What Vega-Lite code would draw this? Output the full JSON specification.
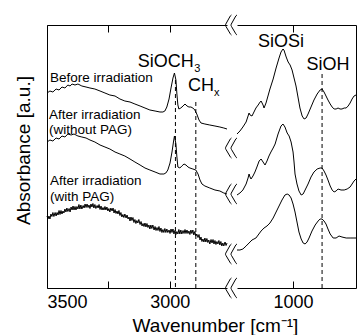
{
  "$schema": "https://vega.github.io/schema/vega-lite/v6.json",
  "padding": {"left": 14, "top": 13, "right": 0, "bottom": 0},
  "config": {
    "view": {"stroke": null},
    "font": "Liberation Sans",
    "axis": {"domainColor": "black", "tickColor": "black", "labelColor": "black", "titleColor": "black", "grid": false, "labelFontSize": 18, "titleFontSize": 19, "titleFontWeight": "normal", "domainWidth": 1, "tickWidth": 1}
  },
  "datasets": {
    "t_left": [
      {"w": 3500, "a": 195, "s": "before"}, {"w": 3488, "a": 197, "s": "before"}, {"w": 3476, "a": 196, "s": "before"}, {"w": 3463, "a": 199, "s": "before"}, {"w": 3451, "a": 198, "s": "before"}, {"w": 3439, "a": 201, "s": "before"}, {"w": 3427, "a": 200, "s": "before"}, {"w": 3415, "a": 203, "s": "before"}, {"w": 3406, "a": 202, "s": "before"}, {"w": 3398, "a": 204, "s": "before"}, {"w": 3386, "a": 203, "s": "before"}, {"w": 3374, "a": 204, "s": "before"}, {"w": 3358, "a": 202, "s": "before"}, {"w": 3341, "a": 201, "s": "before"}, {"w": 3325, "a": 200, "s": "before"}, {"w": 3305, "a": 199, "s": "before"}, {"w": 3284, "a": 197, "s": "before"}, {"w": 3264, "a": 195, "s": "before"}, {"w": 3244, "a": 193, "s": "before"}, {"w": 3223, "a": 192, "s": "before"}, {"w": 3203, "a": 189, "s": "before"}, {"w": 3183, "a": 187, "s": "before"}, {"w": 3162, "a": 186, "s": "before"}, {"w": 3142, "a": 184, "s": "before"}, {"w": 3121, "a": 182, "s": "before"}, {"w": 3101, "a": 180, "s": "before"}, {"w": 3081, "a": 178, "s": "before"}, {"w": 3060, "a": 177, "s": "before"}, {"w": 3040, "a": 176, "s": "before"}, {"w": 3028, "a": 176, "s": "before"}, {"w": 3020, "a": 177, "s": "before"}, {"w": 3012, "a": 181, "s": "before"}, {"w": 3003, "a": 189, "s": "before"}, {"w": 2995, "a": 200, "s": "before"}, {"w": 2987, "a": 210, "s": "before"}, {"w": 2981, "a": 215, "s": "before"}, {"w": 2975, "a": 208, "s": "before"}, {"w": 2971, "a": 194, "s": "before"}, {"w": 2967, "a": 183, "s": "before"}, {"w": 2963, "a": 179, "s": "before"}, {"w": 2955, "a": 180, "s": "before"}, {"w": 2946, "a": 182, "s": "before"}, {"w": 2938, "a": 184, "s": "before"}, {"w": 2930, "a": 182, "s": "before"}, {"w": 2922, "a": 181, "s": "before"}, {"w": 2914, "a": 181, "s": "before"}, {"w": 2906, "a": 180, "s": "before"}, {"w": 2898, "a": 178, "s": "before"}, {"w": 2890, "a": 174, "s": "before"}, {"w": 2881, "a": 168, "s": "before"}, {"w": 2873, "a": 165, "s": "before"}, {"w": 2857, "a": 164, "s": "before"}, {"w": 2837, "a": 163, "s": "before"}, {"w": 2816, "a": 162, "s": "before"}, {"w": 2796, "a": 161, "s": "before"}, {"w": 2780, "a": 160, "s": "before"}, {"w": 2767, "a": 159, "s": "before"},
      {"w": 3500, "a": 146, "s": "without"}, {"w": 3488, "a": 148, "s": "without"}, {"w": 3476, "a": 147, "s": "without"}, {"w": 3463, "a": 150, "s": "without"}, {"w": 3451, "a": 149, "s": "without"}, {"w": 3439, "a": 152, "s": "without"}, {"w": 3427, "a": 151, "s": "without"}, {"w": 3415, "a": 154, "s": "without"}, {"w": 3402, "a": 153, "s": "without"}, {"w": 3390, "a": 154, "s": "without"}, {"w": 3374, "a": 152, "s": "without"}, {"w": 3358, "a": 151, "s": "without"}, {"w": 3341, "a": 150, "s": "without"}, {"w": 3325, "a": 148, "s": "without"}, {"w": 3305, "a": 146, "s": "without"}, {"w": 3284, "a": 143, "s": "without"}, {"w": 3264, "a": 141, "s": "without"}, {"w": 3244, "a": 139, "s": "without"}, {"w": 3223, "a": 136, "s": "without"}, {"w": 3203, "a": 134, "s": "without"}, {"w": 3183, "a": 132, "s": "without"}, {"w": 3162, "a": 129, "s": "without"}, {"w": 3142, "a": 126, "s": "without"}, {"w": 3121, "a": 123, "s": "without"}, {"w": 3101, "a": 120, "s": "without"}, {"w": 3081, "a": 118, "s": "without"}, {"w": 3060, "a": 116, "s": "without"}, {"w": 3040, "a": 114, "s": "without"}, {"w": 3024, "a": 114, "s": "without"}, {"w": 3016, "a": 115, "s": "without"}, {"w": 3008, "a": 118, "s": "without"}, {"w": 2999, "a": 125, "s": "without"}, {"w": 2991, "a": 136, "s": "without"}, {"w": 2985, "a": 146, "s": "without"}, {"w": 2981, "a": 152, "s": "without"}, {"w": 2975, "a": 144, "s": "without"}, {"w": 2971, "a": 131, "s": "without"}, {"w": 2967, "a": 121, "s": "without"}, {"w": 2959, "a": 120, "s": "without"}, {"w": 2951, "a": 122, "s": "without"}, {"w": 2942, "a": 124, "s": "without"}, {"w": 2934, "a": 123, "s": "without"}, {"w": 2926, "a": 121, "s": "without"}, {"w": 2918, "a": 120, "s": "without"}, {"w": 2906, "a": 119, "s": "without"}, {"w": 2894, "a": 118, "s": "without"}, {"w": 2885, "a": 114, "s": "without"}, {"w": 2877, "a": 108, "s": "without"}, {"w": 2869, "a": 104, "s": "without"}, {"w": 2857, "a": 102, "s": "without"}, {"w": 2837, "a": 100, "s": "without"}, {"w": 2816, "a": 98, "s": "without"}, {"w": 2796, "a": 97, "s": "without"}, {"w": 2780, "a": 95, "s": "without"}, {"w": 2767, "a": 94, "s": "without"},
      {"w": 3500, "a": 72, "s": "with"}, {"w": 3496, "a": 69, "s": "with"}, {"w": 3492, "a": 72, "s": "with"}, {"w": 3488, "a": 69, "s": "with"}, {"w": 3484, "a": 74, "s": "with"}, {"w": 3480, "a": 71.5, "s": "with"}, {"w": 3476, "a": 75.5, "s": "with"}, {"w": 3472, "a": 71.5, "s": "with"}, {"w": 3467, "a": 75.5, "s": "with"}, {"w": 3463, "a": 72, "s": "with"}, {"w": 3459, "a": 75.5, "s": "with"}, {"w": 3455, "a": 73, "s": "with"}, {"w": 3451, "a": 77.5, "s": "with"}, {"w": 3447, "a": 73.5, "s": "with"}, {"w": 3443, "a": 77.5, "s": "with"}, {"w": 3439, "a": 74, "s": "with"}, {"w": 3435, "a": 77, "s": "with"}, {"w": 3431, "a": 75, "s": "with"}, {"w": 3427, "a": 79, "s": "with"}, {"w": 3423, "a": 76, "s": "with"}, {"w": 3419, "a": 80, "s": "with"}, {"w": 3415, "a": 76.5, "s": "with"}, {"w": 3410, "a": 79.5, "s": "with"}, {"w": 3406, "a": 76, "s": "with"}, {"w": 3402, "a": 81, "s": "with"}, {"w": 3398, "a": 78, "s": "with"}, {"w": 3394, "a": 82, "s": "with"}, {"w": 3390, "a": 78, "s": "with"}, {"w": 3386, "a": 81.5, "s": "with"}, {"w": 3382, "a": 78, "s": "with"}, {"w": 3378, "a": 81.5, "s": "with"}, {"w": 3374, "a": 79, "s": "with"}, {"w": 3370, "a": 83.5, "s": "with"}, {"w": 3366, "a": 79, "s": "with"}, {"w": 3362, "a": 83, "s": "with"}, {"w": 3358, "a": 79, "s": "with"}, {"w": 3353, "a": 82.5, "s": "with"}, {"w": 3349, "a": 80, "s": "with"}, {"w": 3345, "a": 84, "s": "with"}, {"w": 3341, "a": 80.5, "s": "with"}, {"w": 3337, "a": 84, "s": "with"}, {"w": 3333, "a": 80.5, "s": "with"}, {"w": 3329, "a": 83, "s": "with"}, {"w": 3325, "a": 79.5, "s": "with"}, {"w": 3321, "a": 84, "s": "with"}, {"w": 3317, "a": 81, "s": "with"}, {"w": 3313, "a": 84.5, "s": "with"}, {"w": 3309, "a": 80, "s": "with"}, {"w": 3305, "a": 83.5, "s": "with"}, {"w": 3301, "a": 79.5, "s": "with"}, {"w": 3296, "a": 82.5, "s": "with"}, {"w": 3292, "a": 80, "s": "with"}, {"w": 3288, "a": 83.5, "s": "with"}, {"w": 3284, "a": 78.5, "s": "with"}, {"w": 3280, "a": 82, "s": "with"}, {"w": 3276, "a": 78, "s": "with"}, {"w": 3272, "a": 80.5, "s": "with"}, {"w": 3268, "a": 78, "s": "with"}, {"w": 3264, "a": 81.5, "s": "with"}, {"w": 3260, "a": 78, "s": "with"}, {"w": 3256, "a": 81, "s": "with"}, {"w": 3252, "a": 77, "s": "with"}, {"w": 3248, "a": 79.5, "s": "with"}, {"w": 3244, "a": 76, "s": "with"}, {"w": 3240, "a": 80, "s": "with"}, {"w": 3235, "a": 77, "s": "with"}, {"w": 3231, "a": 80, "s": "with"}, {"w": 3227, "a": 75, "s": "with"}, {"w": 3223, "a": 78.5, "s": "with"}, {"w": 3219, "a": 74.5, "s": "with"}, {"w": 3215, "a": 77, "s": "with"}, {"w": 3211, "a": 74, "s": "with"}, {"w": 3207, "a": 77.5, "s": "with"}, {"w": 3203, "a": 72.5, "s": "with"}, {"w": 3199, "a": 75.5, "s": "with"}, {"w": 3195, "a": 71, "s": "with"}, {"w": 3191, "a": 73.5, "s": "with"}, {"w": 3187, "a": 70.5, "s": "with"}, {"w": 3183, "a": 74, "s": "with"}, {"w": 3178, "a": 70, "s": "with"}, {"w": 3174, "a": 73, "s": "with"}, {"w": 3170, "a": 69, "s": "with"}, {"w": 3166, "a": 71, "s": "with"}, {"w": 3162, "a": 67, "s": "with"}, {"w": 3158, "a": 71, "s": "with"}, {"w": 3154, "a": 67.5, "s": "with"}, {"w": 3150, "a": 70.5, "s": "with"}, {"w": 3146, "a": 65.5, "s": "with"}, {"w": 3142, "a": 68.5, "s": "with"}, {"w": 3138, "a": 64.5, "s": "with"}, {"w": 3134, "a": 67.5, "s": "with"}, {"w": 3130, "a": 65, "s": "with"}, {"w": 3126, "a": 68.5, "s": "with"}, {"w": 3121, "a": 63.5, "s": "with"}, {"w": 3117, "a": 66.5, "s": "with"}, {"w": 3113, "a": 62, "s": "with"}, {"w": 3109, "a": 64.5, "s": "with"}, {"w": 3105, "a": 61.5, "s": "with"}, {"w": 3101, "a": 65, "s": "with"}, {"w": 3097, "a": 61, "s": "with"}, {"w": 3093, "a": 64.5, "s": "with"}, {"w": 3089, "a": 60.5, "s": "with"}, {"w": 3085, "a": 63, "s": "with"}, {"w": 3081, "a": 59, "s": "with"}, {"w": 3077, "a": 63, "s": "with"}, {"w": 3073, "a": 59.5, "s": "with"}, {"w": 3069, "a": 63, "s": "with"}, {"w": 3064, "a": 58, "s": "with"}, {"w": 3060, "a": 61.5, "s": "with"}, {"w": 3056, "a": 57.5, "s": "with"}, {"w": 3052, "a": 60.5, "s": "with"}, {"w": 3048, "a": 57.5, "s": "with"}, {"w": 3044, "a": 61.5, "s": "with"}, {"w": 3040, "a": 56.5, "s": "with"}, {"w": 3036, "a": 60, "s": "with"}, {"w": 3032, "a": 55.5, "s": "with"}, {"w": 3028, "a": 58.5, "s": "with"}, {"w": 3024, "a": 55.5, "s": "with"}, {"w": 3020, "a": 59.5, "s": "with"}, {"w": 3016, "a": 55.5, "s": "with"}, {"w": 3012, "a": 59, "s": "with"}, {"w": 3008, "a": 55.5, "s": "with"}, {"w": 3003, "a": 58, "s": "with"}, {"w": 2999, "a": 54.5, "s": "with"}, {"w": 2995, "a": 59, "s": "with"}, {"w": 2991, "a": 55.5, "s": "with"}, {"w": 2987, "a": 59, "s": "with"}, {"w": 2983, "a": 54, "s": "with"}, {"w": 2979, "a": 57.5, "s": "with"}, {"w": 2975, "a": 53.5, "s": "with"}, {"w": 2971, "a": 56.5, "s": "with"}, {"w": 2967, "a": 54, "s": "with"}, {"w": 2963, "a": 58.5, "s": "with"}, {"w": 2959, "a": 54, "s": "with"}, {"w": 2955, "a": 58, "s": "with"}, {"w": 2951, "a": 54, "s": "with"}, {"w": 2946, "a": 57.5, "s": "with"}, {"w": 2942, "a": 54.5, "s": "with"}, {"w": 2938, "a": 58.5, "s": "with"}, {"w": 2934, "a": 54.5, "s": "with"}, {"w": 2930, "a": 58, "s": "with"}, {"w": 2926, "a": 54.5, "s": "with"}, {"w": 2922, "a": 57, "s": "with"}, {"w": 2918, "a": 53.5, "s": "with"}, {"w": 2914, "a": 58, "s": "with"}, {"w": 2910, "a": 54.5, "s": "with"}, {"w": 2906, "a": 58, "s": "with"}, {"w": 2902, "a": 53, "s": "with"}, {"w": 2898, "a": 56.5, "s": "with"}, {"w": 2894, "a": 52, "s": "with"}, {"w": 2890, "a": 54, "s": "with"}, {"w": 2885, "a": 50.5, "s": "with"}, {"w": 2881, "a": 53.5, "s": "with"}, {"w": 2877, "a": 48, "s": "with"}, {"w": 2873, "a": 51, "s": "with"}, {"w": 2869, "a": 46.5, "s": "with"}, {"w": 2865, "a": 49, "s": "with"}, {"w": 2861, "a": 46, "s": "with"}, {"w": 2857, "a": 50, "s": "with"}, {"w": 2853, "a": 46, "s": "with"}, {"w": 2849, "a": 49.5, "s": "with"}, {"w": 2845, "a": 45.5, "s": "with"}, {"w": 2841, "a": 48, "s": "with"}, {"w": 2837, "a": 44, "s": "with"}, {"w": 2832, "a": 48.5, "s": "with"}, {"w": 2828, "a": 45, "s": "with"}, {"w": 2824, "a": 48.5, "s": "with"}, {"w": 2820, "a": 44, "s": "with"}, {"w": 2816, "a": 47.5, "s": "with"}, {"w": 2812, "a": 43.5, "s": "with"}, {"w": 2808, "a": 46.5, "s": "with"}, {"w": 2804, "a": 44, "s": "with"}, {"w": 2800, "a": 47.5, "s": "with"}, {"w": 2796, "a": 43, "s": "with"}, {"w": 2792, "a": 46.5, "s": "with"}, {"w": 2788, "a": 42, "s": "with"}, {"w": 2784, "a": 45, "s": "with"}, {"w": 2780, "a": 42, "s": "with"}, {"w": 2775, "a": 46, "s": "with"}, {"w": 2771, "a": 42.5, "s": "with"}, {"w": 2767, "a": 45, "s": "with"}
    ],
    "t_right": [
      {"w": 1228, "a": 154, "s": "before"}, {"w": 1216, "a": 157, "s": "before"}, {"w": 1204, "a": 161, "s": "before"}, {"w": 1191, "a": 166, "s": "before"}, {"w": 1183, "a": 172, "s": "before"}, {"w": 1179, "a": 175, "s": "before"}, {"w": 1175, "a": 173, "s": "before"}, {"w": 1167, "a": 172, "s": "before"}, {"w": 1159, "a": 176, "s": "before"}, {"w": 1151, "a": 180, "s": "before"}, {"w": 1142, "a": 183, "s": "before"}, {"w": 1134, "a": 186, "s": "before"}, {"w": 1130, "a": 187, "s": "before"}, {"w": 1122, "a": 183, "s": "before"}, {"w": 1118, "a": 180, "s": "before"}, {"w": 1110, "a": 185, "s": "before"}, {"w": 1102, "a": 192, "s": "before"}, {"w": 1094, "a": 199, "s": "before"}, {"w": 1081, "a": 209, "s": "before"}, {"w": 1069, "a": 220, "s": "before"}, {"w": 1057, "a": 230, "s": "before"}, {"w": 1049, "a": 236, "s": "before"}, {"w": 1041, "a": 239, "s": "before"}, {"w": 1037, "a": 238, "s": "before"}, {"w": 1028, "a": 231, "s": "before"}, {"w": 1020, "a": 226, "s": "before"}, {"w": 1012, "a": 223, "s": "before"}, {"w": 1004, "a": 218, "s": "before"}, {"w": 996, "a": 210, "s": "before"}, {"w": 988, "a": 202, "s": "before"}, {"w": 980, "a": 191, "s": "before"}, {"w": 972, "a": 180, "s": "before"}, {"w": 963, "a": 172, "s": "before"}, {"w": 955, "a": 169, "s": "before"}, {"w": 947, "a": 170, "s": "before"}, {"w": 939, "a": 174, "s": "before"}, {"w": 927, "a": 181, "s": "before"}, {"w": 915, "a": 188, "s": "before"}, {"w": 902, "a": 194, "s": "before"}, {"w": 890, "a": 198, "s": "before"}, {"w": 882, "a": 199, "s": "before"}, {"w": 874, "a": 196, "s": "before"}, {"w": 866, "a": 192, "s": "before"}, {"w": 858, "a": 188, "s": "before"}, {"w": 849, "a": 184, "s": "before"}, {"w": 841, "a": 181, "s": "before"}, {"w": 833, "a": 179, "s": "before"}, {"w": 825, "a": 179, "s": "before"}, {"w": 817, "a": 180, "s": "before"}, {"w": 809, "a": 179, "s": "before"}, {"w": 801, "a": 179, "s": "before"}, {"w": 792, "a": 180, "s": "before"}, {"w": 784, "a": 180, "s": "before"}, {"w": 776, "a": 182, "s": "before"}, {"w": 768, "a": 185, "s": "before"}, {"w": 760, "a": 189, "s": "before"}, {"w": 752, "a": 192, "s": "before"}, {"w": 744, "a": 193, "s": "before"},
      {"w": 1228, "a": 93, "s": "without"}, {"w": 1216, "a": 95, "s": "without"}, {"w": 1204, "a": 98, "s": "without"}, {"w": 1191, "a": 104, "s": "without"}, {"w": 1183, "a": 110, "s": "without"}, {"w": 1179, "a": 114, "s": "without"}, {"w": 1175, "a": 111, "s": "without"}, {"w": 1171, "a": 109, "s": "without"}, {"w": 1163, "a": 112, "s": "without"}, {"w": 1155, "a": 116, "s": "without"}, {"w": 1147, "a": 121, "s": "without"}, {"w": 1138, "a": 127, "s": "without"}, {"w": 1130, "a": 129, "s": "without"}, {"w": 1122, "a": 126, "s": "without"}, {"w": 1114, "a": 123, "s": "without"}, {"w": 1106, "a": 127, "s": "without"}, {"w": 1098, "a": 132, "s": "without"}, {"w": 1090, "a": 136, "s": "without"}, {"w": 1081, "a": 140, "s": "without"}, {"w": 1073, "a": 144, "s": "without"}, {"w": 1061, "a": 154, "s": "without"}, {"w": 1049, "a": 162, "s": "without"}, {"w": 1041, "a": 164, "s": "without"}, {"w": 1033, "a": 161, "s": "without"}, {"w": 1024, "a": 155, "s": "without"}, {"w": 1016, "a": 152, "s": "without"}, {"w": 1008, "a": 146, "s": "without"}, {"w": 1000, "a": 136, "s": "without"}, {"w": 996, "a": 126, "s": "without"}, {"w": 992, "a": 114, "s": "without"}, {"w": 984, "a": 104, "s": "without"}, {"w": 976, "a": 97, "s": "without"}, {"w": 967, "a": 93, "s": "without"}, {"w": 959, "a": 94, "s": "without"}, {"w": 951, "a": 98, "s": "without"}, {"w": 939, "a": 104, "s": "without"}, {"w": 927, "a": 111, "s": "without"}, {"w": 915, "a": 116, "s": "without"}, {"w": 902, "a": 119, "s": "without"}, {"w": 890, "a": 120, "s": "without"}, {"w": 882, "a": 120, "s": "without"}, {"w": 874, "a": 117, "s": "without"}, {"w": 866, "a": 113, "s": "without"}, {"w": 858, "a": 108, "s": "without"}, {"w": 849, "a": 102, "s": "without"}, {"w": 841, "a": 98, "s": "without"}, {"w": 833, "a": 96, "s": "without"}, {"w": 825, "a": 97, "s": "without"}, {"w": 817, "a": 99, "s": "without"}, {"w": 805, "a": 98, "s": "without"}, {"w": 792, "a": 98, "s": "without"}, {"w": 780, "a": 99, "s": "without"}, {"w": 768, "a": 101, "s": "without"}, {"w": 760, "a": 104, "s": "without"}, {"w": 752, "a": 107, "s": "without"}, {"w": 744, "a": 109, "s": "without"},
      {"w": 1228, "a": 38, "s": "with"}, {"w": 1216, "a": 38, "s": "with"}, {"w": 1204, "a": 39, "s": "with"}, {"w": 1191, "a": 42, "s": "with"}, {"w": 1179, "a": 45, "s": "with"}, {"w": 1167, "a": 48, "s": "with"}, {"w": 1159, "a": 49, "s": "with"}, {"w": 1151, "a": 50, "s": "with"}, {"w": 1142, "a": 53, "s": "with"}, {"w": 1130, "a": 57, "s": "with"}, {"w": 1118, "a": 60, "s": "with"}, {"w": 1106, "a": 62, "s": "with"}, {"w": 1094, "a": 65, "s": "with"}, {"w": 1081, "a": 70, "s": "with"}, {"w": 1069, "a": 76, "s": "with"}, {"w": 1057, "a": 82, "s": "with"}, {"w": 1045, "a": 88, "s": "with"}, {"w": 1033, "a": 93, "s": "with"}, {"w": 1024, "a": 94, "s": "with"}, {"w": 1016, "a": 93, "s": "with"}, {"w": 1008, "a": 90, "s": "with"}, {"w": 1000, "a": 84, "s": "with"}, {"w": 992, "a": 76, "s": "with"}, {"w": 984, "a": 66, "s": "with"}, {"w": 976, "a": 56, "s": "with"}, {"w": 967, "a": 49, "s": "with"}, {"w": 959, "a": 45, "s": "with"}, {"w": 951, "a": 44, "s": "with"}, {"w": 943, "a": 46, "s": "with"}, {"w": 935, "a": 50, "s": "with"}, {"w": 923, "a": 57, "s": "with"}, {"w": 910, "a": 63, "s": "with"}, {"w": 898, "a": 67, "s": "with"}, {"w": 890, "a": 69, "s": "with"}, {"w": 882, "a": 69, "s": "with"}, {"w": 874, "a": 67, "s": "with"}, {"w": 866, "a": 64, "s": "with"}, {"w": 858, "a": 59, "s": "with"}, {"w": 849, "a": 54, "s": "with"}, {"w": 837, "a": 50, "s": "with"}, {"w": 825, "a": 50, "s": "with"}, {"w": 813, "a": 52, "s": "with"}, {"w": 801, "a": 51, "s": "with"}, {"w": 784, "a": 50, "s": "with"}, {"w": 768, "a": 50, "s": "with"}, {"w": 756, "a": 50, "s": "with"}, {"w": 744, "a": 50, "s": "with"}
    ],
    "lab_small": [
      {"w": 3488, "a": 206, "t": "Before irradiation"},
      {"w": 3492, "a": 169, "t": "After irradiation"},
      {"w": 3492, "a": 154, "t": "(without PAG)"},
      {"w": 3488, "a": 103, "t": "After irradiation"},
      {"w": 3488, "a": 87, "t": "(with PAG)"}
    ],
    "lab_big_left": [
      {"w": 3130, "a": 221, "t": "SiOCH"},
      {"w": 2926, "a": 197, "t": "CH"}
    ],
    "lab_sub_left": [
      {"w": 2900, "a": 216, "t": "3"},
      {"w": 2820, "a": 192, "t": "x"}
    ],
    "lab_big_right": [
      {"w": 1049, "a": 241, "t": "SiOSi"},
      {"w": 858, "a": 218, "t": "SiOH"}
    ],
    "rules_left": [
      {"w": 2977, "y1": 208, "y2": 0},
      {"w": 2894, "y1": 186, "y2": 0}
    ],
    "rules_right": [
      {"w": 882, "y1": 214, "y2": 0}
    ],
    "breaks": [
      {"w": 2751, "a": 263}, {"w": 2751, "a": 140}, {"w": 2751, "a": 94}, {"w": 2751, "a": 34}, {"w": 2751, "a": 0}
    ]
  },
  "bounds": "flush",
  "spacing": 10,
  "hconcat": [
    {
      "width": 180,
      "height": 263,
      "resolve": {"axis": {"x": "independent"}},
      "layer": [
        {
          "data": {"name": "t_left"},
          "mark": {"type": "line", "color": "black", "strokeWidth": 1},
          "encoding": {
            "x": {"field": "w", "type": "quantitative", "scale": {"domain": [2767, 3500], "reverse": true, "nice": false, "zero": false},
                  "axis": {"orient": "bottom", "values": [3500, 3250, 3000], "labelExpr": "datum.value == 3250 ? '' : datum.label", "tickSize": -7, "labelPadding": 12, "format": "d",
                           "title": "Wavenumber [cm⁻¹]", "titleX": 168, "titleY": 43, "titleAlign": "center", "titleBaseline": "alphabetic"}},
            "y": {"field": "a", "type": "quantitative", "scale": {"domain": [0, 263], "nice": false, "zero": false},
                  "axis": {"ticks": false, "labels": false, "title": "Absorbance [a.u.]", "titlePadding": 14, "titleY": 125}},
            "detail": {"field": "s"}
          }
        },
        {
          "data": {"name": "rules_left"},
          "mark": {"type": "rule", "color": "black", "strokeWidth": 1, "strokeDash": [4, 3]},
          "encoding": {
            "x": {"field": "w", "type": "quantitative", "scale": {"domain": [2767, 3500], "reverse": true, "nice": false, "zero": false},
                  "axis": {"orient": "top", "values": [3500, 3250, 3000], "labels": false, "title": null, "tickSize": -7}},
            "y": {"field": "y1", "type": "quantitative"},
            "y2": {"field": "y2"}
          }
        },
        {
          "data": {"name": "lab_small"},
          "mark": {"type": "text", "align": "left", "baseline": "alphabetic", "fontSize": 13.5, "color": "black"},
          "encoding": {
            "x": {"field": "w", "type": "quantitative", "axis": null},
            "y": {"field": "a", "type": "quantitative"},
            "text": {"field": "t"}
          }
        },
        {
          "data": {"name": "lab_big_left"},
          "mark": {"type": "text", "align": "left", "baseline": "alphabetic", "fontSize": 18, "color": "black"},
          "encoding": {
            "x": {"field": "w", "type": "quantitative", "axis": null},
            "y": {"field": "a", "type": "quantitative"},
            "text": {"field": "t"}
          }
        },
        {
          "data": {"name": "lab_sub_left"},
          "mark": {"type": "text", "align": "left", "baseline": "alphabetic", "fontSize": 11, "color": "black"},
          "encoding": {
            "x": {"field": "w", "type": "quantitative", "axis": null},
            "y": {"field": "a", "type": "quantitative"},
            "text": {"field": "t"}
          }
        },
        {
          "data": {"name": "breaks"},
          "mark": {"type": "point", "shape": "M0.05,-1 Q-0.05,-0.95 -0.12,-0.8 L-0.52,-0.08 Q-0.58,0.02 -0.5,0.14 L-0.1,0.82 Q-0.03,0.95 0.05,1 M0.6,-1 Q0.5,-0.95 0.43,-0.8 L0.03,-0.08 Q-0.03,0.02 0.05,0.14 L0.45,0.82 Q0.52,0.95 0.6,1", "size": 400, "filled": false, "color": "black", "strokeWidth": 1, "opacity": 1},
          "encoding": {
            "x": {"field": "w", "type": "quantitative", "axis": null},
            "y": {"field": "a", "type": "quantitative"}
          }
        }
      ]
    },
    {
      "width": 119,
      "height": 263,
      "resolve": {"axis": {"x": "independent"}},
      "layer": [
        {
          "data": {"name": "t_right"},
          "mark": {"type": "line", "color": "black", "strokeWidth": 1},
          "encoding": {
            "x": {"field": "w", "type": "quantitative", "scale": {"domain": [744, 1228], "reverse": true, "nice": false, "zero": false},
                  "axis": {"orient": "bottom", "values": [1000], "title": null, "tickSize": -7, "labelPadding": 12, "format": "d"}},
            "y": {"field": "a", "type": "quantitative", "scale": {"domain": [0, 263], "nice": false, "zero": false},
                  "axis": {"orient": "right", "ticks": false, "labels": false, "title": null}},
            "detail": {"field": "s"}
          }
        },
        {
          "data": {"name": "rules_right"},
          "mark": {"type": "rule", "color": "black", "strokeWidth": 1, "strokeDash": [4, 3]},
          "encoding": {
            "x": {"field": "w", "type": "quantitative", "scale": {"domain": [744, 1228], "reverse": true, "nice": false, "zero": false},
                  "axis": {"orient": "top", "values": [1000], "labels": false, "title": null, "tickSize": -7}},
            "y": {"field": "y1", "type": "quantitative"},
            "y2": {"field": "y2"}
          }
        },
        {
          "data": {"name": "lab_big_right"},
          "mark": {"type": "text", "align": "center", "baseline": "alphabetic", "fontSize": 18, "color": "black"},
          "encoding": {
            "x": {"field": "w", "type": "quantitative", "axis": null},
            "y": {"field": "a", "type": "quantitative"},
            "text": {"field": "t"}
          }
        }
      ]
    }
  ]
}
